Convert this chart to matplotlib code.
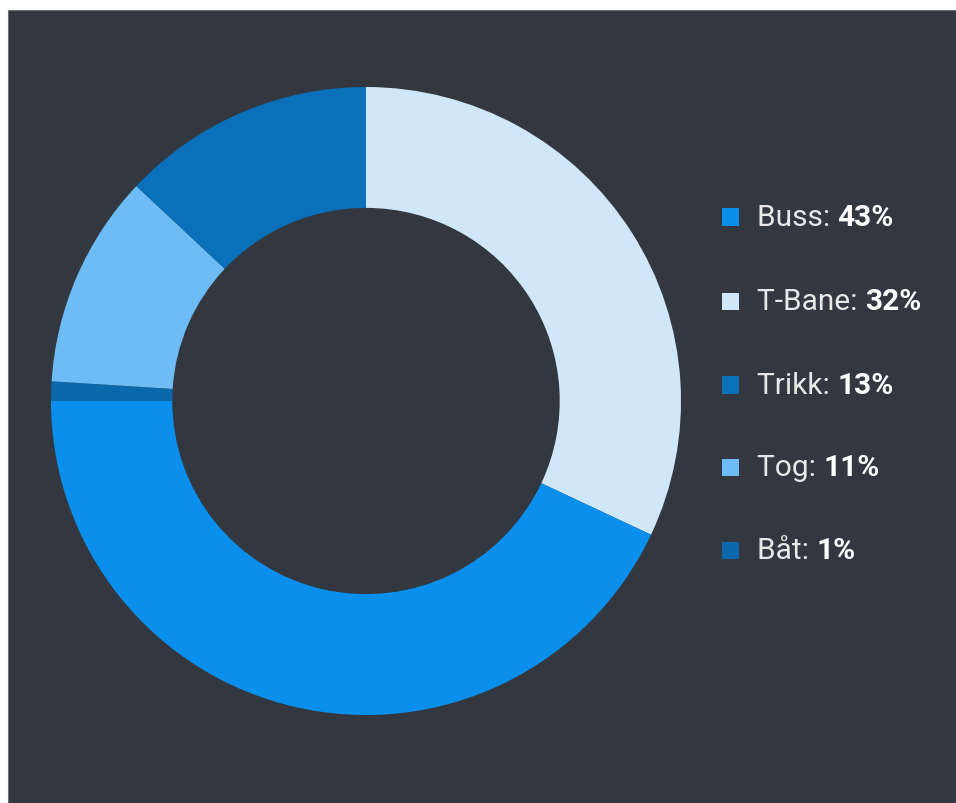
import matplotlib
matplotlib.use('Agg')
import matplotlib.pyplot as plt
from matplotlib.patches import Rectangle

# data, in drawing order (clockwise from 12 o'clock)
pie_labels = ['T-Bane', 'Buss', 'Båt', 'Tog', 'Trikk']
pie_values = [32, 43, 1, 11, 13]
pie_colors = ['#d0e6f9', '#0a90ec', '#0a68ab', '#6dbcf5', '#0a70ba']

# legend order
legend_labels = ['Buss', 'T-Bane', 'Trikk', 'Tog', 'Båt']

bg = '#333840'
plt.rcParams['font.family'] = ['Roboto', 'DejaVu Sans']

fig = plt.figure(figsize=(9.56, 8.04), dpi=100, facecolor='white')

# dark panel behind everything
fig.patches.append(Rectangle((8 / 956, 0), 1 - 8 / 956, 1 - 11 / 804,
                             transform=fig.transFigure, facecolor=bg,
                             edgecolor='#6c7078', linewidth=0.8, zorder=-10))

ax = fig.add_axes([51 / 956, 88 / 804, 630 / 956, 628 / 804])
ax.set_facecolor('none')
ax.pie(pie_values, colors=pie_colors, startangle=90, counterclock=False,
       radius=1, wedgeprops=dict(width=0.385, linewidth=0))
ax.set_xlim(-1, 1)
ax.set_ylim(-1, 1)
ax.set_aspect('auto')
ax.axis('off')

# legend drawn by hand: normal label, bold value
color_of = dict(zip(pie_labels, pie_colors))
value_of = dict(zip(pie_labels, pie_values))
row_y = [218, 302, 386, 468, 551]
for name, y in zip(legend_labels, row_y):
    yf = 1 - y / 804
    fig.patches.append(Rectangle((722 / 956, yf - 8.5 / 804), 17 / 956, 17 / 804,
                                 transform=fig.transFigure,
                                 facecolor=color_of[name], linewidth=0))
    t = fig.text(757 / 956, yf, name + ': ', color='#e8e8e8', fontsize=21.5,
                 va='center', ha='left')
    ax.annotate('%d%%' % value_of[name], xy=(1, 0), xycoords=t,
                va='bottom', ha='left', color='#ffffff', fontsize=21.5,
                fontweight='bold', annotation_clip=False)

fig.savefig('out.png', dpi=100, facecolor='white')
